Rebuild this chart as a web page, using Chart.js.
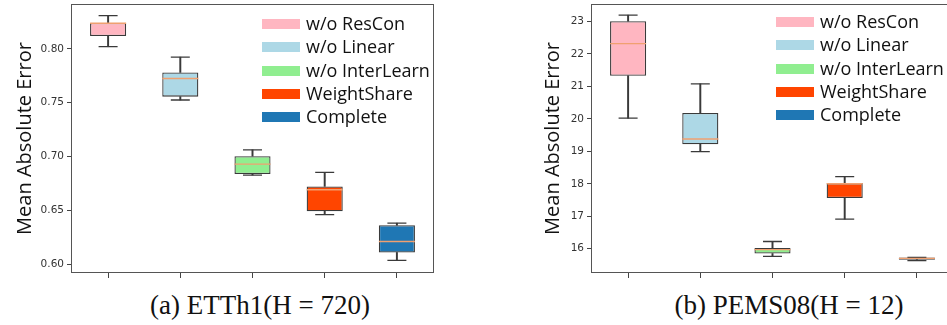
<!DOCTYPE html>
<html>
<head>
<meta charset="utf-8">
<script src="https://cdn.jsdelivr.net/npm/chart.js@4.4.1/dist/chart.umd.min.js"></script>
<style>
  body { margin: 0; width: 947px; height: 325px; overflow: hidden; background: #fff; position: relative; }
  canvas { position: absolute; top: 0; }
  .legend { position: absolute; font-family: "Open Sans", sans-serif; font-size: 18px; color: #111; }
  .legend div { position: absolute; white-space: nowrap; height: 23px; line-height: 23px; }
  .legend span { position: absolute; left: 0; top: 7px; width: 38px; height: 10px; }
  .legend b { font-weight: normal; position: absolute; left: 44px; top: 0; }
  .caption { position: absolute; top: 289px; font-family: "Liberation Serif", serif; font-size: 27px; line-height: 32px; color: #111; transform: translateX(-50%); white-space: nowrap; }
</style>
</head>
<body>
<canvas id="left" width="440" height="285" style="left:0"></canvas>
<canvas id="right" width="440" height="285" style="left:520px"></canvas>
<div class="legend" id="legLeft" style="left:262px; top:12px"></div>
<div class="legend" id="legRight" style="left:776px; top:10px"></div>
<div class="caption" style="left:260px">(a) ETTh1(H = 720)</div>
<div class="caption" style="left:789px">(b) PEMS08(H = 12)</div>
<script>
const categories = ['w/o ResCon', 'w/o Linear', 'w/o InterLearn', 'WeightShare', 'Complete'];
const boxColors = ['#ffb6c1', '#add8e6', '#90ee90', '#ff4500', '#1f77b4'];

// ETTh1 (H = 720)
const etthMin = [0.802, 0.7525, 0.6827, 0.6460, 0.6034];
const etthQ1 = [0.8120, 0.7556, 0.6836, 0.6491, 0.6108];
const etthMedian = [0.8238, 0.7725, 0.6929, 0.6691, 0.6210];
const etthQ3 = [0.8241, 0.7781, 0.7003, 0.6722, 0.6361];
const etthMax = [0.8309, 0.7923, 0.7062, 0.6852, 0.6380];
const etthTicks = [0.60, 0.65, 0.70, 0.75, 0.80];

// PEMS08 (H = 12)
const pemsMin = [20.02, 18.99, 15.76, 16.91, 15.63];
const pemsQ1 = [21.33, 19.22, 15.85, 17.56, 15.66];
const pemsMedian = [22.32, 19.38, 15.97, 18.00, 15.70];
const pemsQ3 = [23.01, 20.18, 16.02, 18.02, 15.73];
const pemsMax = [23.195, 21.08, 16.22, 18.22, 15.73];
const pemsTicks = [16, 17, 18, 19, 20, 21, 22, 23];

const edge = '#3a3a3a';

const framePlugin = {
  id: 'frame',
  afterDraw(chart) {
    const { ctx, chartArea: a } = chart;
    ctx.save();
    ctx.strokeStyle = '#555';
    ctx.lineWidth = 1;
    ctx.strokeRect(Math.round(a.left) - 0.5, Math.round(a.top) + 0.5,
      Math.round(a.width) + 1, Math.round(a.height) - 1);
    ctx.restore();
  }
};

function makeChart(id, mins, q1s, meds, q3s, maxs, ticks, yMin, yMax, titlePad, fmt) {
  return new Chart(document.getElementById(id), {
    type: 'bar',
    data: {
      labels: categories,
      datasets: [
        { type: 'bar', data: mins.map((v, i) => [v, q1s[i]]), backgroundColor: edge,
          barThickness: 1.3, grouped: false, order: 5 },
        { type: 'bar', data: q3s.map((v, i) => [v, maxs[i]]), backgroundColor: edge,
          barThickness: 1.3, grouped: false, order: 4 },
        { type: 'bar', data: q1s.map((v, i) => [v, q3s[i]]), backgroundColor: boxColors,
          borderColor: edge, borderWidth: 1.3, borderSkipped: false,
          barPercentage: 0.5, categoryPercentage: 1, grouped: false, order: 3 },
        { type: 'line', data: maxs, showLine: false, pointStyle: 'line', pointRadius: 9.5,
          pointBorderColor: edge, pointBorderWidth: 1.3, order: 2 },
        { type: 'line', data: mins, showLine: false, pointStyle: 'line', pointRadius: 9.5,
          pointBorderColor: edge, pointBorderWidth: 1.3, order: 2 },
        { type: 'line', data: meds, showLine: false, pointStyle: 'line', pointRadius: 18,
          pointBorderColor: '#f0a070', pointBorderWidth: 1.4, order: 1 }
      ]
    },
    options: {
      responsive: false,
      animation: false,
      events: [],
      layout: { autoPadding: false, padding: { top: 4, right: 7, left: 0, bottom: 0 } },
      plugins: { legend: { display: false }, tooltip: { enabled: false } },
      scales: {
        x: {
          type: 'category',
          offset: true,
          grid: { offset: false, drawOnChartArea: false, drawTicks: true, tickLength: 5, color: '#444' },
          border: { display: false },
          ticks: { callback: () => '' },
          afterFit(scale) {
            scale.height = 12;
            scale.paddingLeft = 0;
            scale.paddingRight = 0;
          }
        },
        y: {
          min: yMin,
          max: yMax,
          grid: { drawOnChartArea: false, drawTicks: true, tickLength: 5, color: '#444' },
          border: { display: false },
          ticks: { color: '#333', font: { family: 'DejaVu Sans', size: 10.5 }, padding: 3, callback: fmt },
          afterBuildTicks(scale) { scale.ticks = ticks.map(v => ({ value: v })); },
          title: {
            display: true,
            text: 'Mean Absolute Error',
            color: '#111',
            font: { family: 'Open Sans', size: 20, lineHeight: 1.2 },
            padding: { top: titlePad, bottom: 0 }
          },
          afterFit(scale) {
            scale.width = 72;
            scale.paddingTop = 0;
            scale.paddingBottom = 0;
          }
        }
      }
    },
    plugins: [framePlugin]
  });
}

makeChart('left', etthMin, etthQ1, etthMedian, etthQ3, etthMax, etthTicks,
  0.5917, 0.8417, 13, v => v.toFixed(2));
makeChart('right', pemsMin, pemsQ1, pemsMedian, pemsQ3, pemsMax, pemsTicks,
  15.25, 23.54, 21, v => String(Math.round(v)));

function buildLegend(id) {
  const el = document.getElementById(id);
  categories.forEach((name, i) => {
    const row = document.createElement('div');
    row.style.top = (i * 23.3) + 'px';
    row.innerHTML = '<span style="background:' + boxColors[i] + '"></span><b>' + name + '</b>';
    el.appendChild(row);
  });
}
buildLegend('legLeft');
buildLegend('legRight');
</script>
</body>
</html>
